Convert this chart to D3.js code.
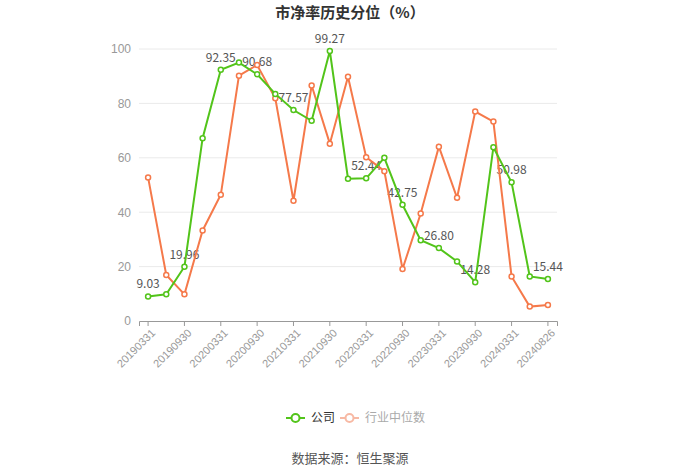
<!DOCTYPE html>
<html>
<head>
<meta charset="utf-8">
<script src="https://cdn.jsdelivr.net/npm/d3@7/dist/d3.min.js"></script>
<style>
html,body{margin:0;padding:0;background:#fff;}
svg{display:block;font-family:"Microsoft YaHei","Noto Sans CJK SC","Noto Sans",sans-serif;}
</style>
</head>
<body>
<svg id="chart" width="700" height="474"></svg>
<script>
const categories = ["20190331","20190630","20190930","20191231","20200331","20200630","20200930","20201231","20210331","20210630","20210930","20211231","20220331","20220630","20220930","20221231","20230331","20230630","20230930","20231231","20240331","20240630","20240826"];
const companyValues = [9.03,9.8,19.96,67.2,92.35,95.0,90.68,83.5,77.57,73.6,99.27,52.3,52.44,60.0,42.75,29.7,26.80,21.9,14.28,63.9,50.98,16.4,15.44];
const industryValues = [52.8,16.9,9.8,33.3,46.4,90.2,94.1,81.9,44.2,86.6,65.2,89.8,60.2,55.1,19.1,39.5,64.1,45.3,77.0,73.3,16.4,5.3,5.9];
const yTicks = [0,20,40,60,80,100];
const seriesNames = ["公司","行业中位数"];
const titleText = "市净率历史分位（%）";
const sourceText = "数据来源：恒生聚源";

const green = "#52c41a", orange = "#f5794a";
const svg = d3.select("#chart");
const mLeft = 139, mRight = 557, mTop = 49, mBottom = 321;

const x = d3.scaleBand().domain(categories).range([mLeft, mRight]);
const y = d3.scaleLinear().domain([0,100]).range([mBottom, mTop]);
const cx = d => x(d) + x.bandwidth()/2;

// title
svg.append("text").attr("x",350).attr("y",18).attr("text-anchor","middle")
  .attr("font-size",15).attr("font-weight","bold").attr("fill","#333").text(titleText);

// grid
svg.append("g").selectAll("line").data(yTicks.filter(t=>t>0)).join("line")
  .attr("x1",mLeft).attr("x2",mRight).attr("y1",d=>y(d)).attr("y2",d=>y(d))
  .attr("stroke","#eaeaea").attr("stroke-width",1);

// y axis
const yAxis = svg.append("g").attr("transform",`translate(${mLeft},0)`)
  .call(d3.axisLeft(y).tickValues(yTicks).tickSize(0).tickPadding(8));
yAxis.select(".domain").remove();
yAxis.selectAll("text").attr("fill","#999").attr("font-size",12).style("font-family","inherit");

// x axis
const labelCats = categories.filter((c,i)=>i%2===0);
const xAxis = svg.append("g").attr("transform",`translate(0,${mBottom})`)
  .call(d3.axisBottom(x).tickValues(labelCats).tickSize(5).tickPadding(4));
xAxis.select(".domain").attr("stroke","#999");
xAxis.selectAll(".tick line").attr("stroke","#999");
xAxis.selectAll("text").attr("fill","#999").attr("font-size",11).style("font-family","inherit")
  .attr("text-anchor","end").attr("dx","-0.3em").attr("dy","0.5em")
  .attr("transform","rotate(-45)");

// labels (under lines)
svg.append("g").selectAll("text").data(companyValues.map((v,i)=>({v,i})).filter(d=>d.i%2===0)).join("text")
  .attr("x",d=>cx(categories[d.i])).attr("y",d=>y(d.v)-8)
  .attr("text-anchor","middle").attr("font-size",12).attr("fill","#555")
  .text(d=>d.v.toFixed(2));

function drawSeries(vals,color){
  const line = d3.line().x((d,i)=>cx(categories[i])).y(d=>y(d));
  svg.append("path").datum(vals).attr("d",line).attr("fill","none")
    .attr("stroke",color).attr("stroke-width",2);
  svg.append("g").selectAll("circle").data(vals).join("circle")
    .attr("cx",(d,i)=>cx(categories[i])).attr("cy",d=>y(d)).attr("r",2.5)
    .attr("fill","#fff").attr("stroke",color).attr("stroke-width",1.5);
}
drawSeries(industryValues,orange);
drawSeries(companyValues,green);

// legend
const legend = [
  {name:seriesNames[0],color:green,text:"#333",x0:286},
  {name:seriesNames[1],color:"#f7b9a4",text:"#aaa",x0:340}
];
const lg = svg.append("g");
legend.forEach(l=>{
  lg.append("line").attr("x1",l.x0).attr("x2",l.x0+19).attr("y1",418).attr("y2",418)
    .attr("stroke",l.color).attr("stroke-width",2);
  lg.append("circle").attr("cx",l.x0+9.5).attr("cy",418).attr("r",4)
    .attr("fill","#fff").attr("stroke",l.color).attr("stroke-width",2);
  lg.append("text").attr("x",l.x0+25).attr("y",422).attr("font-size",12)
    .attr("fill",l.text).text(l.name);
});

// source
svg.append("text").attr("x",350).attr("y",463).attr("text-anchor","middle")
  .attr("font-size",13).attr("fill","#555").text(sourceText);
</script>
</body>
</html>
